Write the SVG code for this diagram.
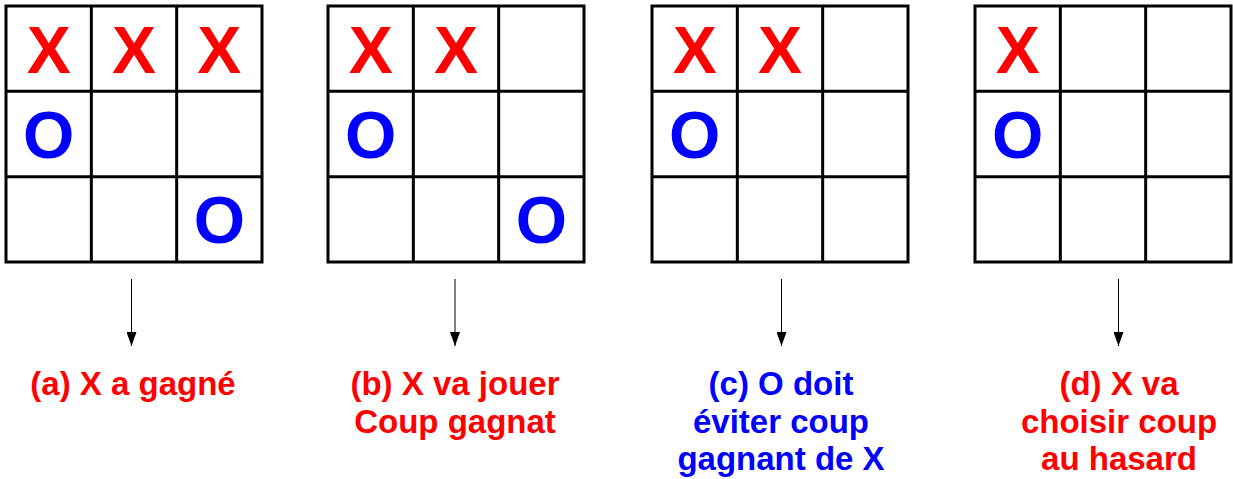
<svg xmlns="http://www.w3.org/2000/svg" width="1233" height="479" viewBox="0 0 1233 479">
<style>
.grid{fill:none;stroke:#000;stroke-width:3}
.x{fill:#ff0000;font-family:"Liberation Sans",Arial,sans-serif;font-weight:bold;font-size:66px;text-anchor:middle}
.o{fill:#0000ff;font-family:"Liberation Sans",Arial,sans-serif;font-weight:bold;font-size:66px;text-anchor:middle}
.lbl{font-family:"Liberation Sans",Arial,sans-serif;font-weight:bold;font-size:33px;text-anchor:middle}
.red{fill:#ff0000}
.blue{fill:#0000ff}
.conn{stroke:#000;stroke-width:1;fill:none;marker-end:url(#ah)}
</style>
<defs>
<marker id="ah" markerUnits="userSpaceOnUse" markerWidth="14" markerHeight="10" refX="14" refY="5" orient="auto" viewBox="0 0 14 10">
<path d="M0,0 L14,5 L0,10 z" fill="#000"/>
</marker>
<g id="board">
<rect class="grid" x="0" y="0" width="256" height="256"/>
<path class="grid" d="M85.33,0 V256 M170.67,0 V256 M0,85.33 H256 M0,170.67 H256"/>
</g>
</defs>
<rect width="1233" height="479" fill="#fff"/>
<g id="board-a" transform="translate(6,6)">
<use href="#board"/>
<text class="x" x="42.67" y="66.5">X</text>
<text class="x" x="128" y="66.5">X</text>
<text class="x" x="213.33" y="66.5">X</text>
<text class="o" x="42.67" y="151.5">O</text>
<text class="o" x="213.33" y="237">O</text>
</g>
<g id="board-b" transform="translate(328,6)">
<use href="#board"/>
<text class="x" x="42.67" y="66.5">X</text>
<text class="x" x="128" y="66.5">X</text>
<text class="o" x="42.67" y="151.5">O</text>
<text class="o" x="213.33" y="237">O</text>
</g>
<g id="board-c" transform="translate(652,6)">
<use href="#board"/>
<text class="x" x="42.67" y="66.5">X</text>
<text class="x" x="128" y="66.5">X</text>
<text class="o" x="42.67" y="151.5">O</text>
</g>
<g id="board-d" transform="translate(975,6)">
<use href="#board"/>
<text class="x" x="42.67" y="66.5">X</text>
<text class="o" x="42.67" y="151.5">O</text>
</g>
<g id="connectors">
<line class="conn" x1="131.5" y1="279" x2="131.5" y2="346"/>
<line class="conn" x1="455" y1="279" x2="455" y2="346"/>
<line class="conn" x1="781.5" y1="279" x2="781.5" y2="346"/>
<line class="conn" x1="1118.5" y1="279" x2="1118.5" y2="346"/>
</g>
<g id="label-a">
<text class="lbl red" x="133" y="395">(a) X a gagné</text>
</g>
<g id="label-b">
<text class="lbl red" x="455" y="395">(b) X va jouer</text>
<text class="lbl red" x="455" y="432.7">Coup gagnat</text>
</g>
<g id="label-c">
<text class="lbl blue" x="781" y="395">(c) O doit</text>
<text class="lbl blue" x="781" y="432.7">éviter coup</text>
<text class="lbl blue" x="781" y="470.4">gagnant de X</text>
</g>
<g id="label-d">
<text class="lbl red" x="1119" y="395">(d) X va</text>
<text class="lbl red" x="1119" y="432.7">choisir coup</text>
<text class="lbl red" x="1119" y="470.4">au hasard</text>
</g>
</svg>
